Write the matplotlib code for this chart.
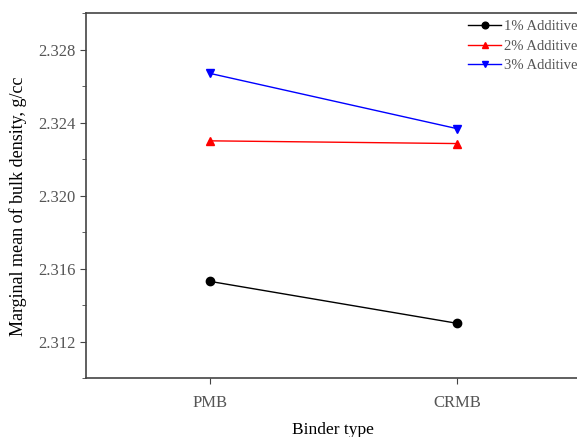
import matplotlib.pyplot as plt
from matplotlib.ticker import MultipleLocator

plt.rcParams['font.family'] = ['Liberation Serif', 'DejaVu Serif']

# Data
binders = ["PMB", "CRMB"]
x = [1, 2]
add1 = [2.3153, 2.3130]
add2 = [2.3230, 2.32285]
add3 = [2.3267, 2.32367]

fig = plt.figure(figsize=(5.77, 4.37), dpi=100)
ax = fig.add_axes([0.149, 0.135, 0.857, 0.835])

ax.plot(x, add1, color="black", marker="o", markersize=6, linewidth=1, label="1% Additive")
ax.plot(x, add2, color="red", marker="^", markersize=6, linewidth=1, label="2% Additive")
ax.plot(x, add3, color="blue", marker="v", markersize=6, linewidth=1, label="3% Additive")

ax.set_xlim(0.5, 2.5)
ax.set_ylim(2.310, 2.330)
ax.set_xticks(x)
ax.set_xticklabels(binders)
ax.yaxis.set_major_locator(MultipleLocator(0.004))
ax.yaxis.set_minor_locator(MultipleLocator(0.002))
ax.yaxis.set_major_formatter(plt.FormatStrFormatter("%.3f"))
ax.tick_params(direction="out", labelsize=12, labelcolor="#555555", color="#444444", length=4)
ax.tick_params(axis="x", pad=8)
ax.tick_params(which="minor", direction="out", length=3, color="#444444")

for s in ax.spines.values():
    s.set_color("#444444")
    s.set_linewidth(1.2)

ax.set_xlabel("Binder type", fontsize=12.5, labelpad=8)
ax.set_ylabel("Marginal mean of bulk density, g/cc", fontsize=13)
ax.yaxis.set_label_coords(-0.12, 0.47)

ax.legend(loc="upper left", bbox_to_anchor=(0.811, 0.955), bbox_transform=fig.transFigure,
          frameon=False, fontsize=10.5, handlelength=2.3, labelspacing=0.45,
          handletextpad=0.2, borderpad=0, borderaxespad=0, markerscale=0.8,
          labelcolor="#555555")

fig.savefig("out.png", dpi=100)
